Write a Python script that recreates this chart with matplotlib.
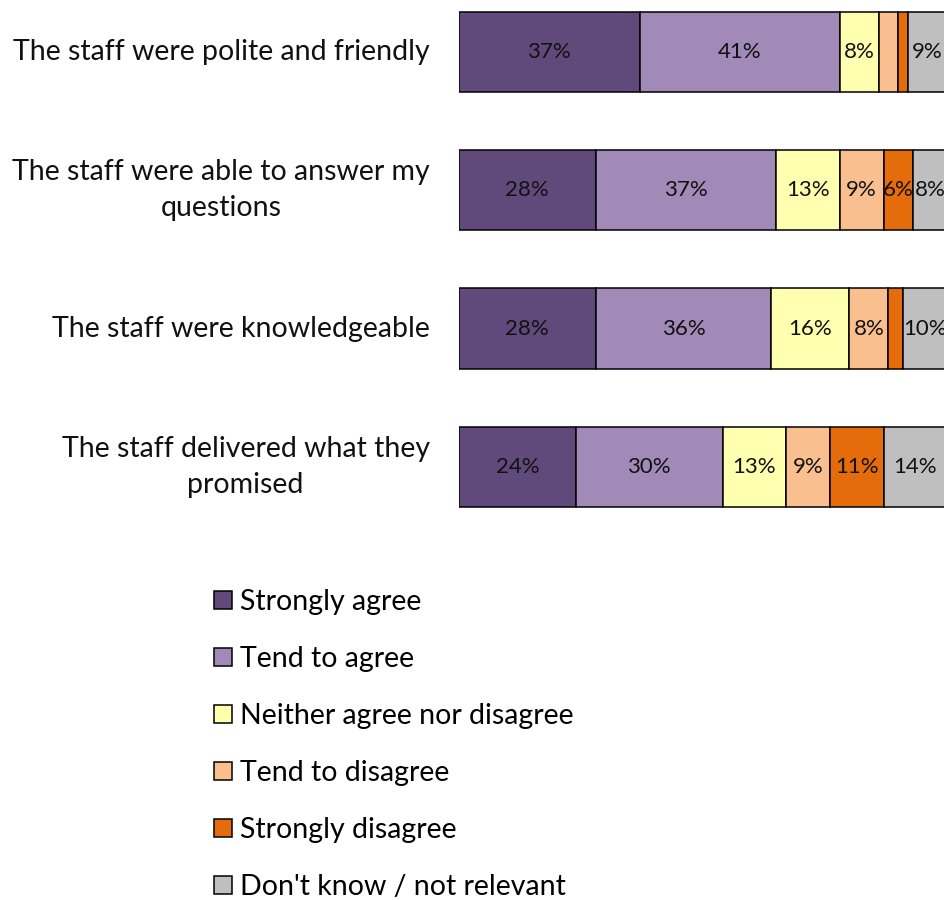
import matplotlib
matplotlib.use("Agg")
import matplotlib.pyplot as plt
import numpy as np

plt.rcParams["font.family"] = ["Lato", "DejaVu Sans"]

# survey statements, top to bottom
questions = [
    "The staff were polite and friendly",
    "The staff were able to answer my\nquestions",
    "The staff were knowledgeable",
    "The staff delivered what they\npromised",
]
responses = [
    "Strongly agree",
    "Tend to agree",
    "Neither agree nor disagree",
    "Tend to disagree",
    "Strongly disagree",
    "Don't know / not relevant",
]
colors = ["#604A7B", "#A18AB7", "#FFFFB0", "#F9BF8F", "#E46C0A", "#BFBFBF"]

# percentages per response, one list per response in question order
strongly_agree = [37, 28, 28, 24]
tend_agree = [41, 37, 36, 30]
neither = [8, 13, 16, 13]
tend_disagree = [4, 9, 8, 9]
strongly_disagree = [2, 6, 3, 11]
dont_know = [9, 8, 10, 14]
series = [strongly_agree, tend_agree, neither, tend_disagree, strongly_disagree, dont_know]

fig = plt.figure(figsize=(9.45, 9.0), dpi=100)
ax = fig.add_axes([459 / 945, 0.4042, 488 / 945, 0.6153])

y = np.arange(len(questions))
left = np.zeros(len(questions))
handles = []
for name, vals, col in zip(responses, series, colors):
    vals = np.array(vals, dtype=float)
    bars = ax.barh(y, vals, left=left, height=0.58, color=col,
                   edgecolor="black", linewidth=1.1, label=name)
    handles.append(bars)
    # small slices stay unlabelled
    labels = ["{:d}%".format(int(v)) if v >= 5 else "" for v in vals]
    ax.bar_label(bars, labels=labels, label_type="center", fontsize=16,
                 color="#111111")
    left += vals

ax.set_xlim(0, 100)
ax.set_ylim(3.5, -0.5)
ax.axis("off")

for yi, q in zip(y, questions):
    ax.text(-6, yi, q, ha="right", va="center", multialignment="center",
            fontsize=20.5, color="#111111", linespacing=1.5)

fig.legend(handles=handles, labels=responses, loc="upper left",
           bbox_to_anchor=(214 / 945, 1 - 589 / 900), frameon=False,
           fontsize=20.5, handlelength=0.63, handleheight=0.63,
           handletextpad=0.28, labelspacing=1.09, borderpad=0,
           borderaxespad=0)

fig.savefig("out.png", dpi=100)
